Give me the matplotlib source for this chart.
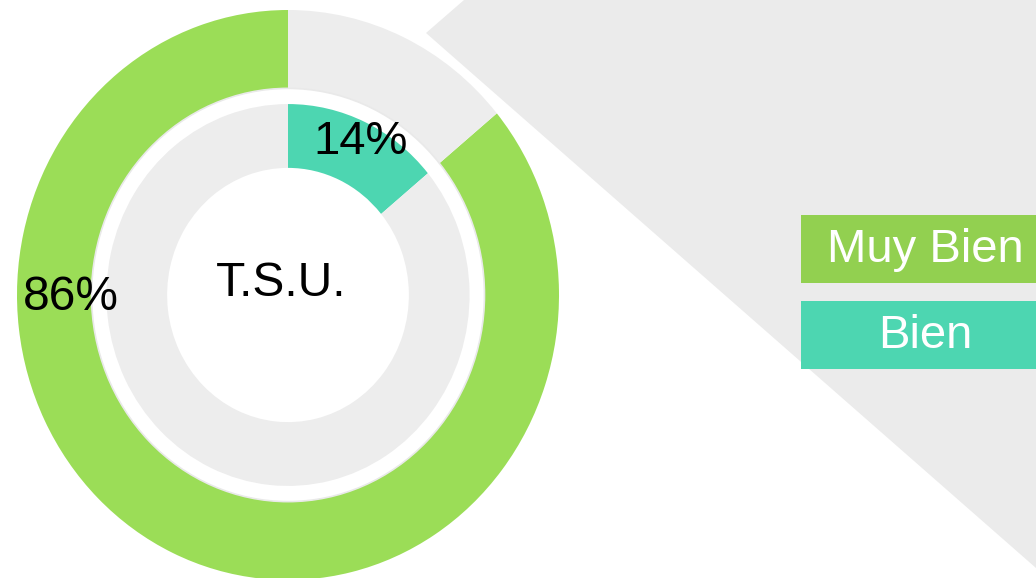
import matplotlib
matplotlib.use("Agg")
import matplotlib.pyplot as plt
from matplotlib.patches import Polygon, Rectangle, Ellipse

# ---- data ----
categories = ["Muy Bien", "Bien"]
outer_values = [86, 14]          # Muy Bien share, remainder
inner_values = [14, 86]          # Bien share, remainder
outer_label = "86%"
inner_label = "14%"
center_label = "T.S.U."

GREEN = "#9bdd57"
GREEN_LEG = "#92d050"
TEAL = "#4dd6b1"
GRAY = "#ededed"
BG_GRAY = "#ebebeb"

plt.rcParams['font.family'] = ['Liberation Sans', 'DejaVu Sans']

W, H = 1036, 578
fig = plt.figure(figsize=(W / 100, H / 100), dpi=100)
fig.patch.set_facecolor("white")

# background axes in pixel coordinates
bg = fig.add_axes([0, 0, 1, 1])
bg.set_xlim(0, W)
bg.set_ylim(H, 0)
bg.axis("off")
bg.add_patch(Polygon([(464, 0), (W, 0), (W, 568), (426, 33)],
                     closed=True, facecolor=BG_GRAY, edgecolor="none"))

# legend boxes
leg_colors = [GREEN_LEG, TEAL]
for i, (cat, col) in enumerate(zip(categories, leg_colors)):
    top = 215 + i * 86
    bg.add_patch(Rectangle((801, top), 260, 68, facecolor=col, edgecolor="none"))
    bg.text(925, top + 35, cat, color="white", fontsize=34,
            ha="center", va="center")

# donut axes
cx, cy = 288, 295
rx, ry = 271, 285
ax = fig.add_axes([(cx - rx) / W, (H - cy - ry) / H, 2 * rx / W, 2 * ry / H])
ax.axis("off")

R_OUT = 1.0
R_OUT_IN = 0.725
R_IN = 0.670
R_HOLE = 0.446

ax.pie(outer_values, colors=[GREEN, GRAY], startangle=90, counterclock=True,
       radius=R_OUT, wedgeprops=dict(width=R_OUT - R_OUT_IN, edgecolor="none"))
ax.pie(inner_values, colors=[TEAL, GRAY], startangle=90, counterclock=False,
       radius=R_IN, wedgeprops=dict(width=R_IN - R_HOLE, edgecolor="none"))
ax.add_patch(Ellipse((0, 0), 2 * R_OUT_IN, 2 * R_OUT_IN, fill=False,
                     edgecolor="#e9e9e9", linewidth=1.2))
ax.set_aspect("auto")
ax.set_xlim(-1, 1)
ax.set_ylim(-1, 1)

ax.text(-0.803, -0.01, outer_label, fontsize=34.5, ha="center", va="center", color="black")
ax.text(0.266, 0.537, inner_label, fontsize=34, ha="center", va="center", color="black")
ax.text(-0.025, 0.039, center_label, fontsize=34.5, ha="center", va="center", color="black")

fig.savefig("out.png", dpi=100, facecolor="white")
